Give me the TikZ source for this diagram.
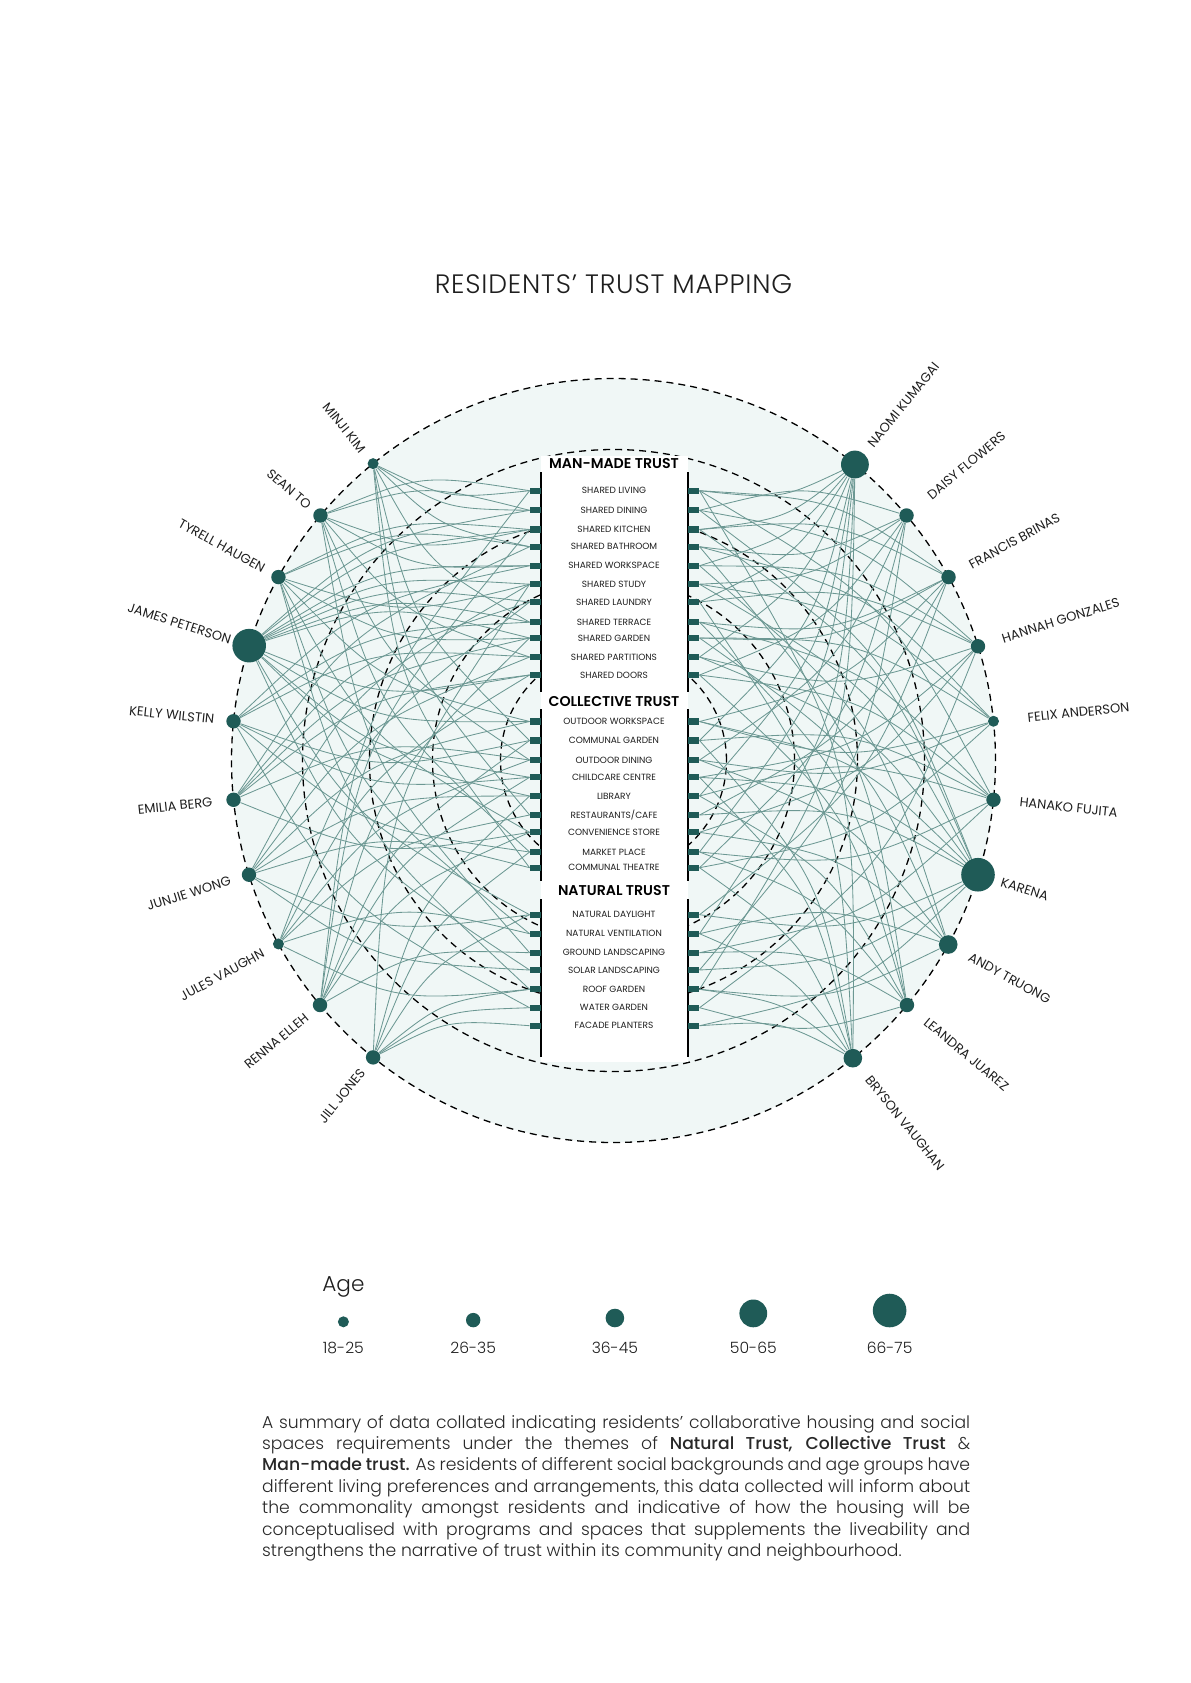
\documentclass[tikz,border=0pt]{standalone}
\usepackage{fontspec}
\setmainfont{Poppins}
\IfFontExistsTF{Poppins Light}{\newfontfamily\plight{Poppins Light}}{\newfontfamily\plight{Poppins}}
\IfFontExistsTF{Poppins Light}{\newfontfamily\ptitle{Poppins Light}[LetterSpace=3]}{\newfontfamily\ptitle{Poppins}[LetterSpace=3]}
\IfFontExistsTF{Poppins Medium}{\newfontfamily\pmed{Poppins Medium}}{\newfontfamily\pmed{Poppins}}
\IfFontExistsTF{Poppins SemiBold}{\newfontfamily\psemi{Poppins SemiBold}}{\newfontfamily\psemi{Poppins}[UprightFont=*,BoldFont=*]\renewcommand*\psemi{\fontspec{Poppins}\bfseries}}
\newfontfamily\preg{Poppins}
\usetikzlibrary{calc}
\definecolor{dotc}{RGB}{31,91,87}
\definecolor{connc}{RGB}{108,152,147}
\definecolor{pale}{RGB}{240,247,246}
\definecolor{txt}{RGB}{30,30,30}
\definecolor{para}{RGB}{40,40,40}
\def\stubY{{490.7,510.3,529.5,546.7,565.7,584.2,602,622.2,638,657,675,721.5,740.5,760,777.3,796,815,832.3,852,867.7,914.7,933.7,952.7,970,989.3,1007.7,1025.7}}
\begin{document}
\begin{tikzpicture}[x=0.5pt,y=0.5pt,
  dot/.style={circle,fill=dotc,inner sep=0pt,draw=none},
  stubbox/.style={rectangle,fill=dotc,inner sep=0pt,minimum width=5.35pt,minimum height=3.1pt},
  conn/.style={draw=connc,line width=0.42pt},
  ring/.style={draw=black,line width=0.65pt,dash pattern=on 3.5pt off 2.5pt},
  pname/.style={font=\preg\fontsize{6.5}{7.5}\selectfont,text=txt,inner sep=0pt},
  item/.style={font=\preg\fontsize{4.5}{5}\selectfont,text=txt,inner sep=0pt},
  head/.style={font=\psemi\fontsize{7.1}{8}\selectfont,text=black,inner sep=0pt},
  colline/.style={line width=1pt,draw=black},
  leg/.style={font=\plight\fontsize{7.8}{9}\selectfont,text=txt,inner sep=0pt}
]
\path[use as bounding box] (0,0) rectangle (1190,-1683);
\coordinate (C) at (613.5,-760.5);
% background disc and rings
\fill[pale] (C) circle[radius=191pt];
\draw[ring] (C) circle[radius=191pt];
\draw[ring] (C) circle[radius=155.5pt];
\draw[ring] (C) circle[radius=122pt];
\draw[ring] (C) circle[radius=90.5pt];
\draw[ring] (C) circle[radius=56.5pt];
% central column
\fill[white] (540.7,-456) rectangle (688.3,-1062);
\foreach \xx in {540.7,688.3}{
  \draw[colline] (\xx,-472) -- (\xx,-692);
  \draw[colline] (\xx,-709) -- (\xx,-881);
  \draw[colline] (\xx,-899) -- (\xx,-1057);
}
\node[head] (h1) at (614,-464) {MAN-MADE TRUST};
\node[head] (h2) at (614,-701.7) {COLLECTIVE TRUST};
\node[head] (h3) at (614,-890.7) {NATURAL TRUST};
\foreach \i/\t in {1/SHARED LIVING,2/SHARED DINING,3/SHARED KITCHEN,4/SHARED BATHROOM,5/SHARED WORKSPACE,6/SHARED STUDY,7/SHARED LAUNDRY,8/SHARED TERRACE,9/SHARED GARDEN,10/SHARED PARTITIONS,11/SHARED DOORS,12/OUTDOOR WORKSPACE,13/COMMUNAL GARDEN,14/OUTDOOR DINING,15/CHILDCARE CENTRE,16/LIBRARY,17/RESTAURANTS\slash CAFE,18/CONVENIENCE STORE,19/MARKET PLACE,20/COMMUNAL THEATRE,21/NATURAL DAYLIGHT,22/NATURAL VENTILATION,23/GROUND LANDSCAPING,24/SOLAR LANDSCAPING,25/ROOF GARDEN,26/WATER GARDEN,27/FACADE PLANTERS}{
  \pgfmathsetmacro\sy{\stubY[\i-1]}
  \node[stubbox] (l\i) at (535.35,-\sy) {};
  \node[stubbox] (r\i) at (693.8,-\sy) {};
  \node[item] (lab\i) at (614,-\sy) {\t};
}
% residents
\foreach \n/\a/\r/\d/\t in {minji/129/5.5/16/MINJI KIM,sean/140.1/7.2/14/SEAN TO,tyrell/151.3/7.2/16/TYRELL HAUGEN,james/162.5/16.8/19/JAMES PETERSON,kelly/174.1/7.2/19/KELLY WILSTIN,emilia/185.9/7.2/21/EMILIA BERG,junjie/197.4/7.2/19/JUNJIE WONG,jules/208.7/5.5/17/JULES VAUGHN,renna/219.8/7.2/17/RENNA ELLEH,jill/231/7.2/16.5/JILL JONES}{
  \node[dot,minimum size=\r pt] (\n) at ($(C)+(\a:382)$) {};
  \node[pname,anchor=east,rotate=\a-180] (\n-t) at ($(C)+(\a:{382+\d})$) {\t};
}
\foreach \n/\a/\r/\d/\t in {naomi/50.8/13.9/24/NAOMI KUMAGAI,daisy/39.9/7.2/29/DAISY FLOWERS,francis/28.7/7.2/24/FRANCIS BRINAS,hannah/17.4/7.2/25/HANNAH GONZALES,felix/5.9/5.5/34/FELIX ANDERSON,hanako/-5.9/7.2/26/HANAKO FUJITA,karena/-17.4/16.8/24/KARENA,andy/-28.8/9.3/24/ANDY TRUONG,leandra/-39.8/7.2/24/LEANDRA JUAREZ,bryson/-51.2/9.3/24/BRYSON VAUGHAN}{
  \node[dot,minimum size=\r pt] (\n) at ($(C)+(\a:382)$) {};
  \node[pname,anchor=west,rotate=\a] (\n-t) at ($(C)+(\a:{382+\d})$) {\t};
}
% connectors, left
\foreach \n/\a/\list in {minji/129/{1,2,4,8,13,17,20},sean/140.1/{1,2,3,5,10,14,19,23},tyrell/151.3/{3,4,6,9,12,18,22,25},james/162.5/{2,3,5,6,7,8,9,11,12,15,16,21,24},kelly/174.1/{5,8,10,13,15,19,26},emilia/185.9/{4,7,9,11,14,18},junjie/197.4/{6,10,12,16,20,21,24},jules/208.7/{7,11,14,17,22,25},renna/219.8/{1,3,9,13,15,18,23},jill/231/{6,16,19,21,25,26,27}}{
  \pgfmathsetmacro\ppy{760.5-382*sin(\a)}
  \foreach \s in \list {
    \pgfmathsetmacro\sy{\stubY[\s-1]}
    \pgfmathsetmacro\bd{(\sy>\ppy)?-90:90}
    \draw[conn] (\n) .. controls ($(\n)!0.5!(l\s.west)!0.28!\bd:(l\s.west)$) .. (l\s.west);
  }
}
% connectors, right
\foreach \n/\a/\list in {naomi/50.8/{1,3,5,7,10,13,16,19,22,25},daisy/39.9/{2,4,6,11,14,20,24},francis/28.7/{1,3,8,9,12,17,21},hannah/17.4/{2,5,7,10,15,18,26},felix/5.9/{4,6,9,12,14,20},hanako/-5.9/{1,8,11,13,16,19,23},karena/-17.4/{2,3,6,10,12,15,17,21,24,27},andy/-28.8/{5,9,14,18,22,25},leandra/-39.8/{4,8,11,16,19,23,26},bryson/-51.2/{1,7,13,15,20,22,25,27}}{
  \pgfmathsetmacro\ppy{760.5-382*sin(\a)}
  \foreach \s in \list {
    \pgfmathsetmacro\sy{\stubY[\s-1]}
    \pgfmathsetmacro\bd{(\sy>\ppy)?90:-90}
    \draw[conn] (\n) .. controls ($(\n)!0.5!(r\s.east)!0.28!\bd:(r\s.east)$) .. (r\s.east);
  }
}
% title
\node[font=\ptitle\fontsize{13.3}{15}\selectfont,text=txt,inner sep=0pt] (title) at (613.5,-284.4) {RESIDENTS’ TRUST MAPPING};
% legend
\node[font=\plight\fontsize{10.8}{12}\selectfont,text=txt,inner sep=0pt,anchor=west] (age) at (322,-1286.6) {Age};
\foreach \k/\xx/\r/\t in {1/343.4/5.5/18-25,2/473.2/7.2/26-35,3/614.9/9.3/36-45,4/753.3/13.9/50-65,5/889.6/16.8/66-75}{
  \node[dot,minimum size=\r pt] (ag\k) at (\xx,{-1327.3+\r}) {};
  \node[leg] (agt\k) at (\xx,-1348) {\t};
}
% paragraph
\node[anchor=base west,inner sep=0pt,text width=354pt,align=justify,font=\plight\fontsize{8.6}{10.73}\selectfont,text=para] (para) at (261.8,-1428) {A summary of data collated indicating residents’ collaborative housing and social\linebreak spaces requirements under the themes of {\pmed Natural Trust, Collective Trust} \&\linebreak {\pmed Man-made trust.} As residents of different social backgrounds and age groups have\linebreak different living preferences and arrangements, this data collected will inform about\linebreak the commonality amongst residents and indicative of how the housing will be\linebreak conceptualised with programs and spaces that supplements the liveability and\linebreak strengthens the narrative of trust within its community and neighbourhood.};
\end{tikzpicture}
\end{document}
